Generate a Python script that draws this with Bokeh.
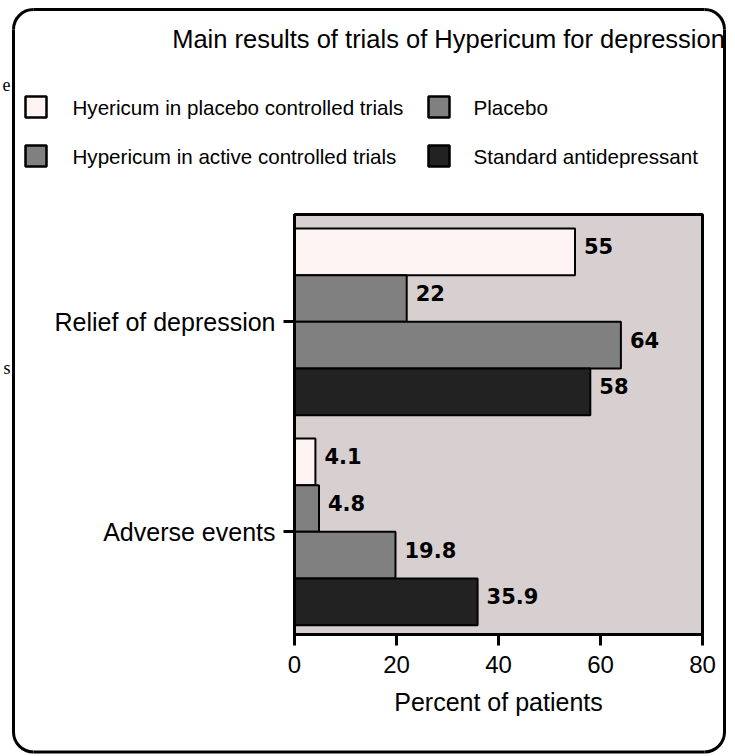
from bokeh.plotting import figure
from bokeh.models import Range1d, FixedTicker, Label, ColumnDataSource
from bokeh.core.properties import value
from bokeh.embed import file_html
from bokeh.resources import INLINE

# ---------------- data ----------------
title_text = "Main results of trials of Hypericum for depression"
groups = ["Relief of depression", "Adverse events"]
series = [
    "Hyericum in placebo controlled trials",
    "Placebo",
    "Hypericum in active controlled trials",
    "Standard antidepressant",
]
relief_values = [55, 22, 64, 58]
adverse_values = [4.1, 4.8, 19.8, 35.9]
series_colors = ["#fff4f4", "#808080", "#808080", "#222222"]
x_ticks = [0, 20, 40, 60, 80]
x_label = "Percent of patients"
edge_fragments = ["e", "s"]          # stray letters visible at the left edge of the scan

# ---------------- layout ----------------
W, H = 735, 756
FL, FR, FT, FB = 294, 702, 214, 634      # frame edges in canvas pixels
X0, X1 = 0, 80
Y0, Y1 = 0, 9.0
PAD, GAP = 0.2, 0.5
FONT = "Liberation Sans"


def xd(px):
    return X0 + (px - FL) / (FR - FL) * (X1 - X0)


def yd(py):
    return Y0 + (FB - py) / (FB - FT) * (Y1 - Y0)


values_by_group = [relief_values, adverse_values]
n = len(series)
ng = len(groups)


def bar_y(g, i):
    base = PAD + (ng - 1 - g) * (n + GAP)
    return base + (n - 1 - i) + 0.5


group_centers = [round(PAD + (ng - 1 - g) * (n + GAP) + n / 2, 6) for g in range(ng)]

p = figure(
    width=W, height=H,
    x_range=Range1d(X0, X1), y_range=Range1d(Y0, Y1),
    output_backend="svg", toolbar_location=None,
    min_border_left=FL, min_border_right=W - FR,
    min_border_top=FT, min_border_bottom=H - FB,
    background_fill_color="#d8d0d0", border_fill_color="white",
    outline_line_color="black", outline_line_width=3,
)
p.xgrid.visible = False
p.ygrid.visible = False

# x axis
xa = p.xaxis[0]
xa.ticker = FixedTicker(ticks=x_ticks)
xa.major_tick_out = 11
xa.major_tick_in = 0
xa.minor_tick_out = 0
xa.minor_tick_in = 0
xa.axis_line_width = 3
xa.major_tick_line_width = 3
xa.major_label_text_font = FONT
xa.major_label_text_font_size = "24px"
xa.major_label_text_color = "black"
xa.major_label_standoff = 10
xa.axis_label = x_label
xa.axis_label_text_font = FONT
xa.axis_label_text_font_size = "25px"
xa.axis_label_text_font_style = "normal"
xa.axis_label_text_color = "black"
xa.axis_label_standoff = 12

# y axis
ya = p.yaxis[0]
ya.ticker = FixedTicker(ticks=group_centers)
ya.major_label_overrides = {c: g for c, g in zip(group_centers, groups)}
ya.major_tick_out = 11
ya.major_tick_in = 0
ya.minor_tick_out = 0
ya.minor_tick_in = 0
ya.axis_line_width = 3
ya.major_tick_line_width = 3
ya.major_label_text_font = FONT
ya.major_label_text_font_size = "25px"
ya.major_label_text_color = "black"
ya.major_label_standoff = 8

# bars + value labels
for i, (s, col) in enumerate(zip(series, series_colors)):
    vals = [values_by_group[g][i] for g in range(ng)]
    src = ColumnDataSource(dict(
        y=[bar_y(g, i) for g in range(ng)],
        right=vals,
        label=[f"{v:g}" for v in vals],
    ))
    p.hbar(y="y", left=0, right="right", height=1, source=src,
           fill_color=col, line_color="black", line_width=2)
    p.text(x="right", y="y", text="label", source=src,
           x_offset=9, y_offset=-5.5, text_baseline="middle", text_align="left",
           text_font=value("DejaVu Sans"), text_font_style="bold",
           text_font_size="21px", text_color="black")

# title (side-panel label, positioned through the data scales)
p.add_layout(Label(x=xd(448), y=yd(38.5), text=title_text, text_align="center",
                   text_baseline="middle", text_font=FONT,
                   text_font_size="25.5px", text_color="black"), "above")

# legend (2 x 2 grid, row-major) drawn as overlay glyphs
sw_x = [25, 428]
sw_y = [96, 145]
tx_x = [72, 473]
tx_mid = [107, 156]
SW = 21
leg = dict(l=[], r=[], t=[], b=[], c=[], tx=[], ty=[], s=[])
for k, (s, col) in enumerate(zip(series, series_colors)):
    r, c = divmod(k, 2)
    leg["l"].append(xd(sw_x[c]))
    leg["r"].append(xd(sw_x[c] + SW))
    leg["t"].append(yd(sw_y[r]))
    leg["b"].append(yd(sw_y[r] + SW))
    leg["c"].append(col)
    leg["tx"].append(xd(tx_x[c]))
    leg["ty"].append(yd(tx_mid[r]))
    leg["s"].append(s)
lsrc = ColumnDataSource(leg)
p.quad(left="l", right="r", top="t", bottom="b", fill_color="c", line_color="black",
       line_width=2.5, source=lsrc, level="overlay")
p.text(x="tx", y="ty", text="s", source=lsrc, text_align="left",
       text_baseline="middle", text_font=value(FONT), text_font_size="20.6px",
       text_color="black", level="overlay")

# stray serif letters at the left edge of the scan (kept fully inside the canvas)
p.text(x=[xd(10), xd(10)], y=[yd(84), yd(367)], text=edge_fragments,
       text_align="right", text_baseline="middle",
       text_font=value("Liberation Serif"), text_font_size="18px",
       text_color="black", level="overlay")

# rounded outer border (segments + arcs)
BL, BR, BT, BB, RAD = 13, 724, 9, 751.5, 20
seg = dict(
    x0=[xd(BL + RAD), xd(BL + RAD), xd(BL), xd(BR)],
    y0=[yd(BT), yd(BB), yd(BT + RAD), yd(BT + RAD)],
    x1=[xd(BR - RAD), xd(BR - RAD), xd(BL), xd(BR)],
    y1=[yd(BT), yd(BB), yd(BB - RAD), yd(BB - RAD)],
)
p.segment(x0="x0", y0="y0", x1="x1", y1="y1", source=ColumnDataSource(seg),
          line_color="black", line_width=3, level="overlay")
arcs = dict(
    x=[xd(BL + RAD), xd(BR - RAD), xd(BR - RAD), xd(BL + RAD)],
    y=[yd(BT + RAD), yd(BT + RAD), yd(BB - RAD), yd(BB - RAD)],
    a0=[1.5707963, 0.0, 4.7123890, 3.1415927],
    a1=[3.1415927, 1.5707963, 6.2831853, 4.7123890],
)
p.arc(x="x", y="y", radius=RAD, radius_units="screen", start_angle="a0", end_angle="a1",
      source=ColumnDataSource(arcs), line_color="black", line_width=3, level="overlay")

open("out.html", "w").write(file_html(p, INLINE))
